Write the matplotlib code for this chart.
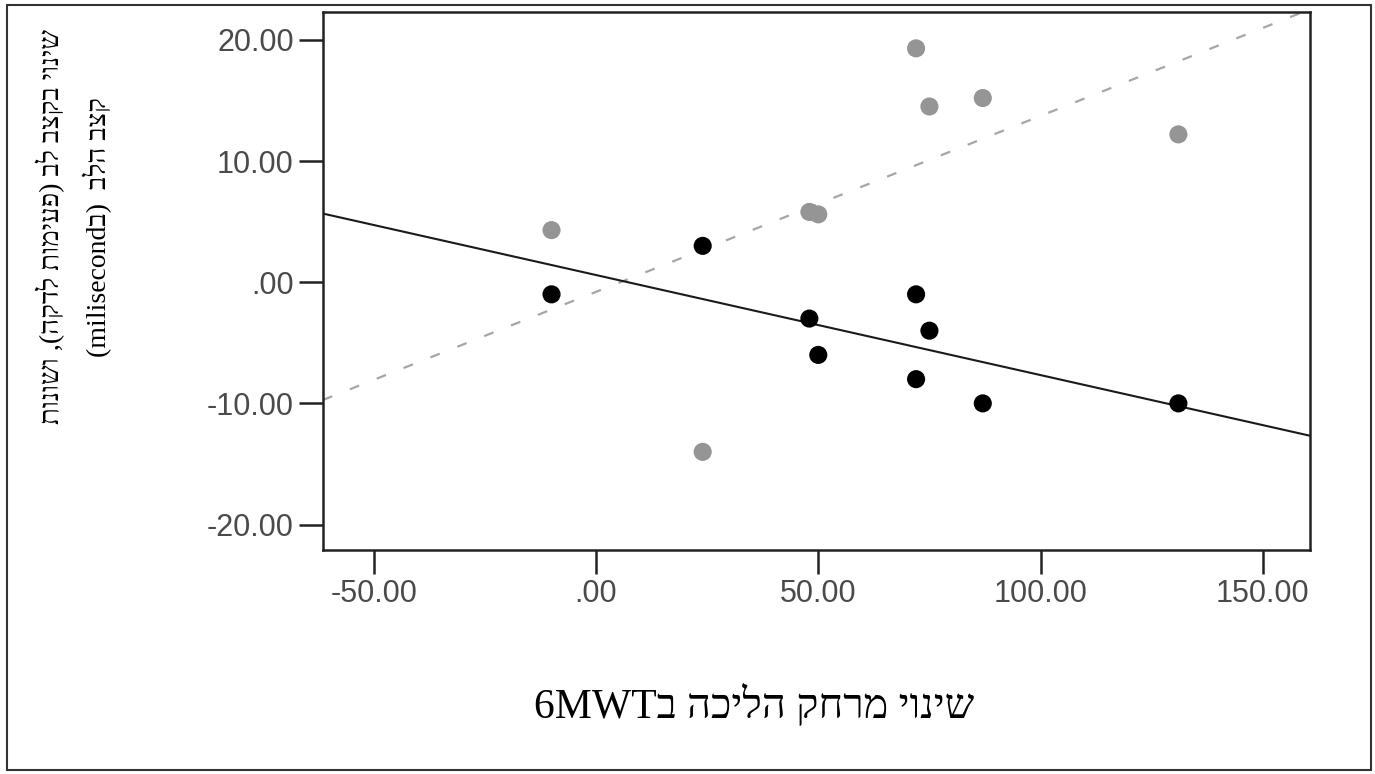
import re
import numpy as np
import matplotlib
matplotlib.use("Agg")
from matplotlib import pyplot as plt
from matplotlib.patches import Rectangle

# change in 6MWT distance vs. change in heart rate / HRV
black_x = [-10, 24, 48, 50, 72, 72, 75, 87, 131]
black_y = [-1, 3, -3, -6, -1, -8, -4, -10, -10]
gray_x = [-10, 24, 48, 50, 72, 75, 87, 131]
gray_y = [4.3, -14, 5.8, 5.6, 19.3, 14.5, 15.2, 12.2]

x_ticks = [-50, 0, 50, 100, 150]
x_tick_labels = ["-50.00", ".00", "50.00", "100.00", "150.00"]
y_ticks = [-20, -10, 0, 10, 20]
y_tick_labels = ["-20.00", "-10.00", ".00", "10.00", "20.00"]

x_title = "שינוי מרחק הליכה ב6MWT"
y_title_1 = "שינוי בקצב לב (פעימות לדקה), ושונות"
y_title_2 = "קצב הלב  (בmilisecond)"


def visual(s):
    # matplotlib has no bidi, so flip hebrew by hand
    r = s[::-1]
    r = re.sub(r"[A-Za-z0-9]+", lambda m: m.group(0)[::-1], r)
    return r.translate(str.maketrans("()", ")("))


fig = plt.figure(figsize=(13.75, 7.74), dpi=100)
ax = fig.add_axes([323 / 1375, 1 - 550 / 774, (1310 - 323) / 1375, (550 - 12) / 774])

xmin, xmax = -61.4, 160.6
ax.set_xlim(xmin, xmax)
ax.set_ylim(-22.1, 22.3)

# fit lines
xs = np.array([xmin, xmax])
b = np.polyfit(black_x, black_y, 1)
g = np.polyfit(gray_x, gray_y, 1)
ax.plot(xs, np.polyval(g, xs), color="#a6a6a6", lw=1.6, dashes=(4.5, 8.5), zorder=2)
ax.plot(xs, np.polyval(b, xs), color="#1a1a1a", lw=1.5, zorder=2)

ax.scatter(gray_x, gray_y, s=170, color="#959595", edgecolors="none", zorder=3)
ax.scatter(black_x, black_y, s=170, color="black", edgecolors="none", zorder=4)

ax.set_xticks(x_ticks)
ax.set_xticklabels(x_tick_labels)
ax.set_yticks(y_ticks)
ax.set_yticklabels(y_tick_labels)
ax.tick_params(direction="out", length=17, width=1.8, color="#222222",
               labelsize=22, labelcolor="#4a4a4a", pad=4)
for lab in ax.get_xticklabels() + ax.get_yticklabels():
    lab.set_family("Liberation Sans")
for sp in ax.spines.values():
    sp.set_linewidth(1.8)
    sp.set_color("#222222")

fig.text(754 / 1375, 1 - 706 / 774, visual(x_title), ha="center", va="center",
         fontsize=30, family=["Liberation Serif", "DejaVu Serif"])
fig.text(74 / 1375, 1 - 227 / 774, visual(y_title_1) + "\n" + visual(y_title_2),
         ha="center", va="center", rotation=90, multialignment="center",
         fontsize=20, linespacing=1.75, family=["Liberation Serif", "DejaVu Serif"])

# outer frame
fig.patches.append(Rectangle((7 / 1375, 4 / 774), 1364 / 1375, 765 / 774,
                             transform=fig.transFigure, fill=False,
                             edgecolor="#333333", lw=1.5))

fig.savefig("out.png", dpi=100)
